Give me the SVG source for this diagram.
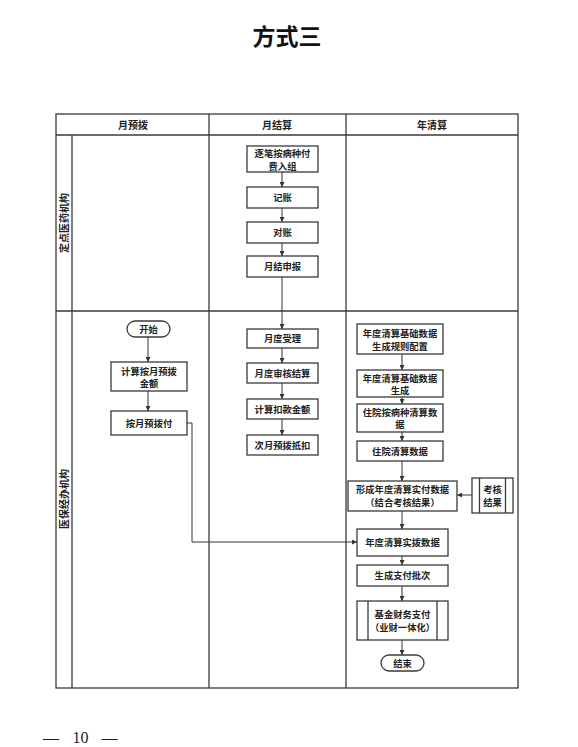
<svg xmlns="http://www.w3.org/2000/svg" width="578" height="747" viewBox="0 0 578 747">
<style>
.ln{fill:none;stroke:#3a3a3a;stroke-width:1.3}
.bx{fill:#fff;stroke:#3a3a3a;stroke-width:1.3}
.t{font-family:"Noto Sans CJK SC","Noto Sans",sans-serif;font-size:9.3px;font-weight:bold;fill:#222;text-anchor:middle}
.h{font-family:"Noto Sans CJK SC","Noto Sans",sans-serif;font-size:10px;font-weight:bold;fill:#222;text-anchor:middle}
.c{fill:none;stroke:#333;stroke-width:1;marker-end:url(#ar)}
.f{font-family:"Liberation Serif",serif;font-size:16px;fill:#222;text-anchor:middle}
</style>
<defs>
<marker id="ar" viewBox="0 0 10 10" refX="10" refY="5" markerWidth="5" markerHeight="5" markerUnits="userSpaceOnUse" orient="auto">
<path d="M0,0 L10,5 L0,10 z" fill="#333"/>
</marker>
</defs>
<rect width="578" height="747" fill="#fff"/>
<text x="287" y="45" style="font-family:'Noto Sans CJK SC',serif;font-size:23px;font-weight:bold;fill:#111;text-anchor:middle">方式三</text>
<text class="f" x="51" y="743">—</text>
<text class="f" x="80.5" y="743">10</text>
<text class="f" x="109.5" y="743">—</text>

<g id="swimlanes">
<rect class="ln" x="56" y="114" width="462" height="574"/>
<line class="ln" x1="56" y1="135" x2="518" y2="135"/>
<line class="ln" x1="209" y1="114" x2="209" y2="688"/>
<line class="ln" x1="346" y1="114" x2="346" y2="688"/>
<line class="ln" x1="72" y1="135" x2="72" y2="688"/>
<line class="ln" x1="56" y1="311" x2="518" y2="311"/>
<text class="h" x="133" y="128.5">月预拨</text>
<text class="h" x="277" y="128.5">月结算</text>
<text class="h" x="432" y="128.5">年清算</text>
<text class="h" transform="translate(67.5,223) rotate(-90)">定点医药机构</text>
<text class="h" transform="translate(67.5,499) rotate(-90)">医保经办机构</text>
</g>

<g id="connectors">
<line class="c" x1="282" y1="172" x2="282" y2="187"/>
<line class="c" x1="282" y1="208" x2="282" y2="222"/>
<line class="c" x1="282" y1="243" x2="282" y2="256"/>
<line class="c" x1="282" y1="277" x2="282" y2="329"/>
<line class="c" x1="282" y1="348" x2="282" y2="363"/>
<line class="c" x1="282" y1="383" x2="282" y2="399"/>
<line class="c" x1="282" y1="419" x2="282" y2="435"/>
<line class="c" x1="148" y1="337" x2="148" y2="362"/>
<line class="c" x1="148" y1="391" x2="148" y2="411"/>
<path class="c" d="M187,423 H192 V542 H357"/>
<line class="c" x1="402" y1="354" x2="402" y2="370"/>
<line class="c" x1="402" y1="397" x2="402" y2="404"/>
<line class="c" x1="402" y1="432" x2="402" y2="441"/>
<line class="c" x1="402" y1="461" x2="402" y2="481"/>
<line class="c" x1="402" y1="511" x2="402" y2="529"/>
<line class="c" x1="402" y1="556" x2="402" y2="565"/>
<line class="c" x1="402" y1="586" x2="402" y2="601"/>
<line class="c" x1="402" y1="640" x2="402" y2="655"/>
<line class="c" x1="472" y1="495" x2="457" y2="495"/>
</g>

<g id="n1"><rect class="bx" x="247" y="146" width="71" height="26"/><text class="t" x="282.5" y="157">逐笔按病种付</text><text class="t" x="282.5" y="169.5">费入组</text></g>
<g id="n2"><rect class="bx" x="247" y="187" width="71" height="21"/><text class="t" x="282.5" y="201">记账</text></g>
<g id="n3"><rect class="bx" x="247" y="222" width="71" height="21"/><text class="t" x="282.5" y="236">对账</text></g>
<g id="n4"><rect class="bx" x="247" y="256" width="71" height="21"/><text class="t" x="282.5" y="270">月结申报</text></g>
<g id="n5"><rect class="bx" x="247" y="329" width="71" height="19"/><text class="t" x="282.5" y="342">月度受理</text></g>
<g id="n6"><rect class="bx" x="247" y="363" width="71" height="20"/><text class="t" x="282.5" y="376.5">月度审核结算</text></g>
<g id="n7"><rect class="bx" x="247" y="399" width="71" height="20"/><text class="t" x="282.5" y="412.5">计算扣款金额</text></g>
<g id="n8"><rect class="bx" x="247" y="435" width="71" height="20"/><text class="t" x="282.5" y="448.5">次月预拨抵扣</text></g>

<g id="start"><rect class="bx" x="127" y="321" width="43" height="16" rx="8"/><text class="t" x="148.5" y="332.5">开始</text></g>
<g id="p1"><rect class="bx" x="111" y="362" width="76" height="29"/><text class="t" x="149" y="374.5">计算按月预拨</text><text class="t" x="149" y="387">金额</text></g>
<g id="p2"><rect class="bx" x="111" y="411" width="76" height="24"/><text class="t" x="149" y="426.5">按月预拨付</text></g>

<g id="y1"><rect class="bx" x="357" y="324" width="86" height="30"/><text class="t" x="400" y="337">年度清算基础数据</text><text class="t" x="400" y="349.5">生成规则配置</text></g>
<g id="y2"><rect class="bx" x="357" y="370" width="86" height="27"/><text class="t" x="400" y="381.5">年度清算基础数据</text><text class="t" x="400" y="394">生成</text></g>
<g id="y3"><rect class="bx" x="357" y="404" width="86" height="28"/><text class="t" x="400" y="415.5">住院按病种清算数</text><text class="t" x="400" y="428">据</text></g>
<g id="y4"><rect class="bx" x="357" y="441" width="86" height="20"/><text class="t" x="400" y="454.5">住院清算数据</text></g>
<g id="y5"><rect class="bx" x="348" y="481" width="109" height="30"/><text class="t" x="402.5" y="493">形成年度清算实付数据</text><text class="t" x="402.5" y="505.5">（结合考核结果）</text></g>
<g id="kh"><rect class="bx" x="472" y="478" width="41" height="35"/><line class="ln" x1="479.5" y1="478" x2="479.5" y2="513"/><line class="ln" x1="505.5" y1="478" x2="505.5" y2="513"/><text class="t" x="492.5" y="493">考核</text><text class="t" x="492.5" y="505.5">结果</text></g>
<g id="y6"><rect class="bx" x="357" y="529" width="91" height="27"/><text class="t" x="402.5" y="546">年度清算实拨数据</text></g>
<g id="y7"><rect class="bx" x="357" y="565" width="91" height="21"/><text class="t" x="402.5" y="579">生成支付批次</text></g>
<g id="y8"><rect class="bx" x="357" y="601" width="91" height="39"/><line class="ln" x1="368" y1="601" x2="368" y2="640"/><line class="ln" x1="437" y1="601" x2="437" y2="640"/><text class="t" x="402.5" y="618">基金财务支付</text><text class="t" x="402.5" y="630.5">（业财一体化）</text></g>
<g id="end"><rect class="bx" x="381" y="655" width="43" height="16" rx="8"/><text class="t" x="402.5" y="666.5">结束</text></g>
</svg>
